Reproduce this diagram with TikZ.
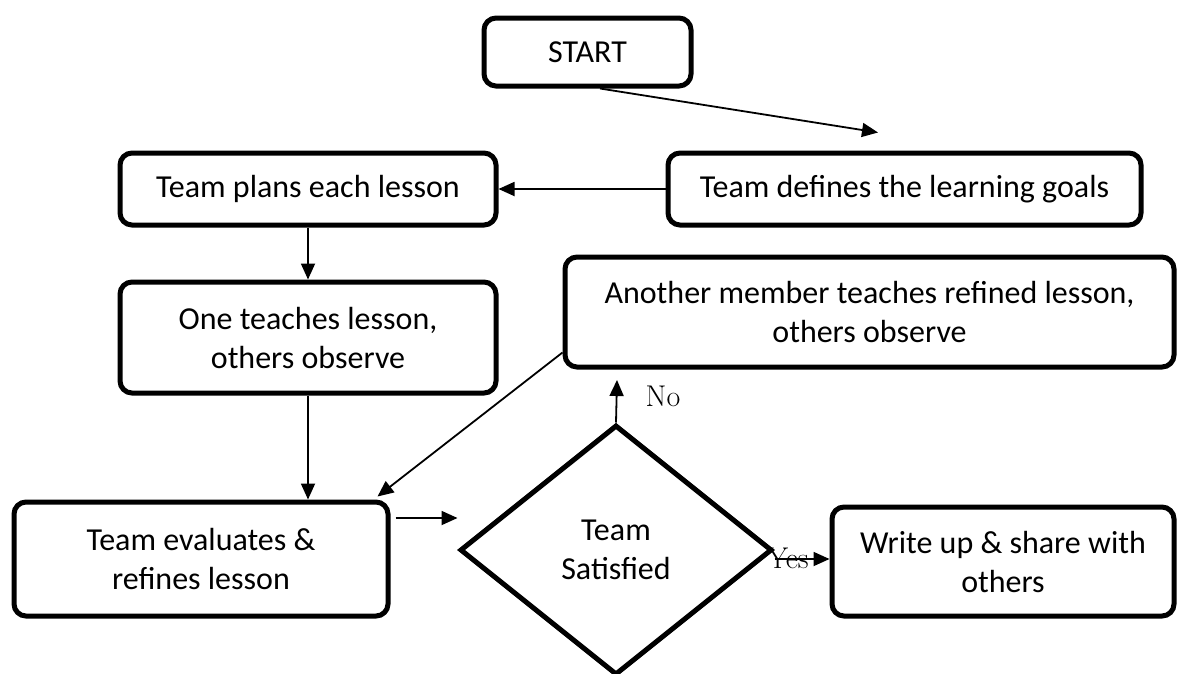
\documentclass[tikz,border=0pt]{standalone}
\usepackage{fontspec}
\newfontfamily\calfont{Carlito}
\usetikzlibrary{arrows.meta,shapes.geometric}
\begin{document}
\begin{tikzpicture}[x=1pt,y=-1pt,
  box/.style={draw, line width=5pt, rounded corners=12pt, align=center,
    font=\calfont\fontsize{32}{39}\selectfont, inner sep=0pt},
  dec/.style={draw, line width=5pt, diamond, align=center, inner sep=0pt,
    font=\calfont\fontsize{32}{39}\selectfont},
  arr/.style={line width=1.8pt, -{Triangle[length=16pt,width=14pt]}},
  lbl/.style={font=\fontsize{30}{32}\selectfont, inner sep=0pt}]
\useasboundingbox (0,0) rectangle (1178,673);

\node[box, minimum width=207pt, minimum height=68pt] (start) at (587.5,52) {START};
\node[box, minimum width=473pt, minimum height=72pt] (defines) at (904.5,189) {Team defines the learning goals};
\node[box, minimum width=376pt, minimum height=72pt] (plans) at (308,189) {Team plans each lesson};
\node[box, minimum width=376pt, minimum height=111pt] (teach) at (308,337.5) {One teaches lesson,\\others observe};
\node[box, minimum width=609pt, minimum height=110pt] (another) at (869.5,312) {Another member teaches refined lesson,\\others observe};
\node[box, minimum width=374pt, minimum height=114pt] (eval) at (201,559) {Team evaluates \&\\refines lesson};
\node[box, minimum width=342pt, minimum height=109pt] (write) at (1003,561.5) {Write up \& share with\\others};
\node[dec, minimum width=312pt, minimum height=250pt, aspect=1.248] (dia) at (616,550) {Team\\Satisfied};

\draw[arr] ([xshift=12.5pt]start.south) -- ([xshift=-26.5pt,yshift=18pt]defines.north);
\draw[arr] (defines.west) -- (plans.east);
\draw[arr] (plans.south) -- (teach.north);
\draw[arr] (teach.south) -- (teach.south |- eval.north);
\draw[arr] ([yshift=17pt]another.south west) -- ([xshift=-13pt,yshift=3pt]eval.north east);
\draw[arr] ([xshift=5pt,yshift=41pt]eval.east) -- ([yshift=32pt]dia.west);

\coordinate (noend) at (617,380);
\draw[arr] (dia.north) -- (noend);
\node[lbl] (no) at (663,396) {No};

\coordinate (yesend) at ([yshift=2.5pt]write.west);
\draw[arr] (dia.east |- yesend) -- (yesend);
\node[lbl] (yes) at (788,558) {Yes};
\end{tikzpicture}
\end{document}
